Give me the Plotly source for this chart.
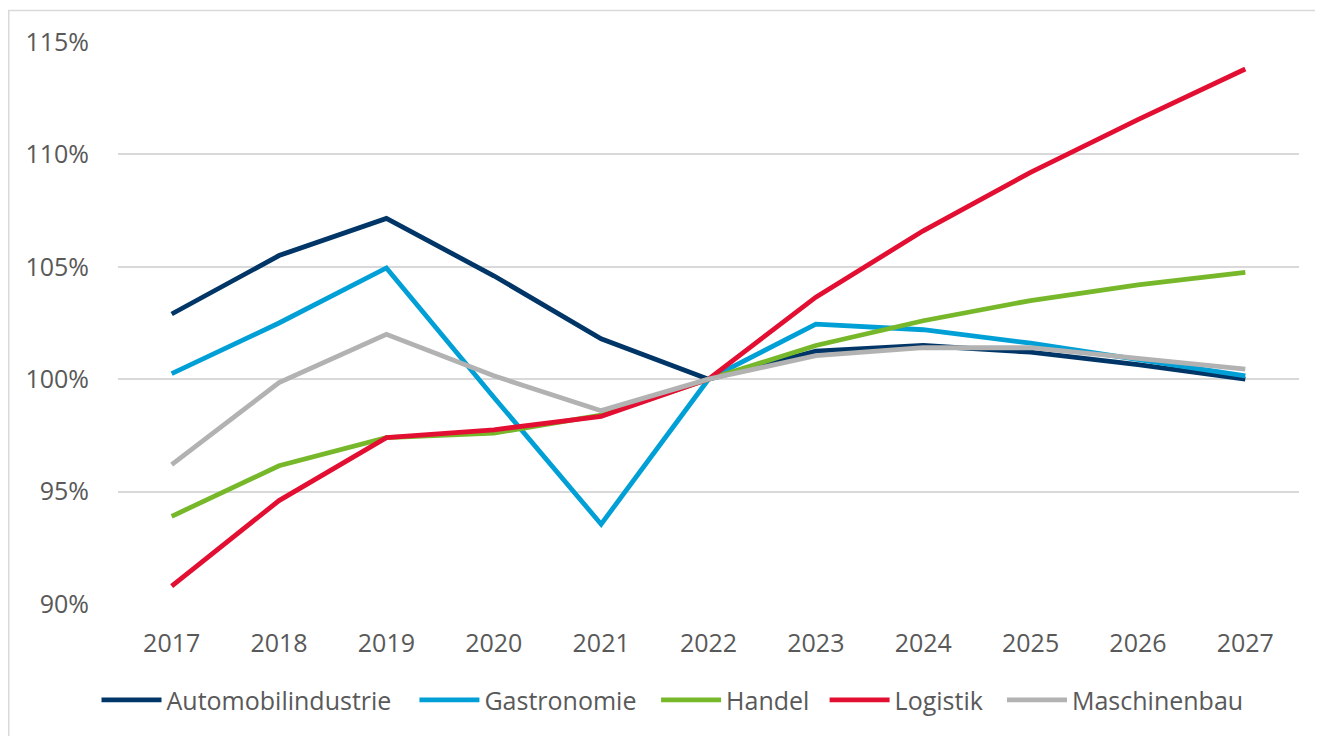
import plotly.graph_objects as go

# Index 2022 = 100 %
years = ['2017', '2018', '2019', '2020', '2021', '2022', '2023', '2024', '2025', '2026', '2027']

automobil = [102.9, 105.5, 107.15, 104.6, 101.8, 100.0, 101.25, 101.5, 101.2, 100.65, 100.0]
gastronomie = [100.25, 102.5, 104.95, 99.2, 93.55, 100.0, 102.45, 102.2, 101.6, 100.85, 100.15]
handel = [93.9, 96.15, 97.4, 97.6, 98.4, 100.0, 101.5, 102.6, 103.5, 104.2, 104.75]
logistik = [90.8, 94.6, 97.4, 97.75, 98.35, 100.0, 103.65, 106.6, 109.2, 111.55, 113.8]
maschinenbau = [96.2, 99.85, 102.0, 100.15, 98.6, 100.0, 101.05, 101.4, 101.4, 100.95, 100.45]

y_ticks = [90, 95, 100, 105, 110, 115]
y_labels = ['90%', '95%', '100%', '105%', '110%', '115%']

series = [
    ('Automobilindustrie', automobil, '#003667'),
    ('Gastronomie', gastronomie, '#00A0D6'),
    ('Handel', handel, '#77B82A'),
    ('Logistik', logistik, '#E30F33'),
    ('Maschinenbau', maschinenbau, '#B2B2B2'),
]

# one legend per entry so the entries sit where the original has them
legend_x = [-0.0182, 0.2510, 0.4556, 0.5983, 0.7485]
legend_keys = ['legend', 'legend2', 'legend3', 'legend4', 'legend5']

font = dict(family='Open Sans', size=25, color='#595959')

fig = go.Figure()
for (name, vals, color), key in zip(series, legend_keys):
    fig.add_trace(go.Scatter(
        x=years, y=vals, name=name, mode='lines',
        line=dict(color=color, width=4.8),
        legend=key,
    ))

legends = {}
for key, lx in zip(legend_keys, legend_x):
    legends[key] = dict(orientation='h', x=lx, xanchor='left', y=-0.171, yanchor='middle',
                        font=font, itemwidth=60, bgcolor='rgba(0,0,0,0)')

# page body has an 8px margin, so the figure is 8px smaller than the window
fig.update_layout(
    width=1315, height=728,
    margin=dict(l=110, r=24, t=34, b=132),
    plot_bgcolor='white', paper_bgcolor='white',
    font=font,
    showlegend=True,
    xaxis=dict(type='category', range=[-0.5, 10.5], showgrid=False, showline=False,
               ticks='', ticklabelstandoff=22, tickfont=font),
    yaxis=dict(range=[90, 115], tickmode='array', tickvals=y_ticks, ticktext=y_labels,
               showgrid=True, gridcolor='#D9D9D9', gridwidth=1.5,
               zeroline=False, showline=False, ticks='', ticklabelstandoff=28,
               tickfont=font),
    shapes=[dict(type='path', xref='paper', yref='paper',
                 path='M -0.0925,-0.4 L -0.0925,1.056 L 1.1,1.056',
                 line=dict(color='#D9D9D9', width=1.5), layer='below')],
    **legends,
)

fig.write_html("out.html")
